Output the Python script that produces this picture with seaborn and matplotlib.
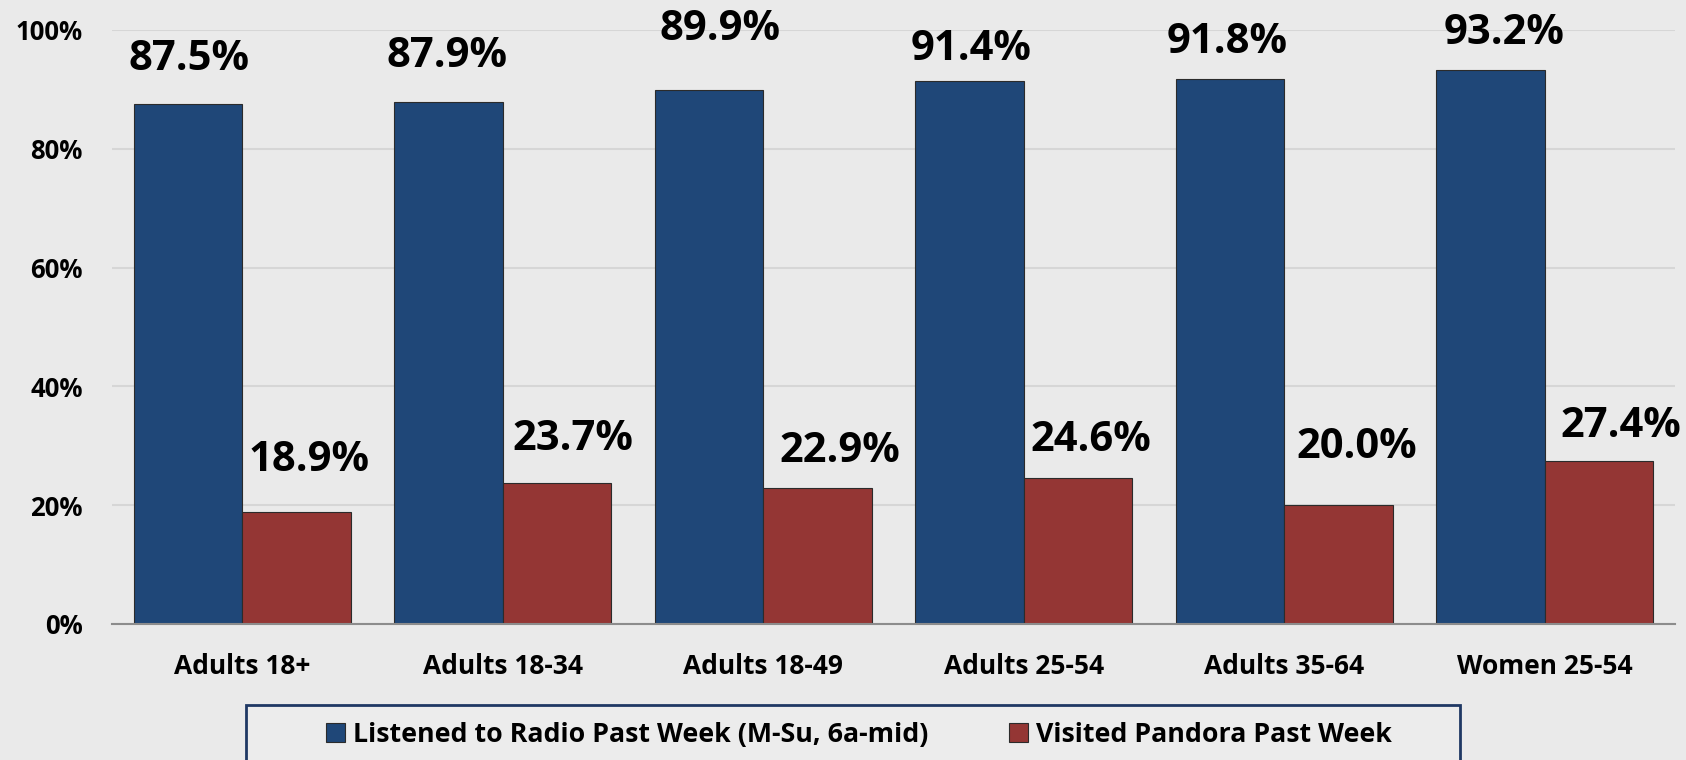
import matplotlib
matplotlib.use("Agg")
import matplotlib.pyplot as plt
import seaborn as sns
import pandas as pd
from matplotlib.patches import Rectangle

# ---- data ----
categories = ["Adults 18+", "Adults 18-34", "Adults 18-49", "Adults 25-54", "Adults 35-64", "Women 25-54"]
series_names = ["Listened to Radio Past Week (M-Su, 6a-mid)", "Visited Pandora Past Week"]
radio = [87.5, 87.9, 89.9, 91.4, 91.8, 93.2]
pandora = [18.9, 23.7, 22.9, 24.6, 20.0, 27.4]
ytick_vals = [0, 20, 40, 60, 80, 100]
ytick_labels = ["0%", "20%", "40%", "60%", "80%", "100%"]

# label placement tweaks (pixels: dx right, dy above bar top)
radio_lbl_dx = [1, -2, 11, 2, -3, 14]
radio_lbl_dy = [45, 45, 60, 32, 36, 37]
pand_lbl_dx = [13, 16, 22, 13, 18, 22]
pand_lbl_dy = [51, 44, 36, 37, 58, 35]

colors = ["#1F4778", "#943634"]
bg = "#eaeaea"

df = pd.DataFrame({
    "group": categories * 2,
    "series": [series_names[0]] * len(categories) + [series_names[1]] * len(categories),
    "value": radio + pandora,
})

sns.set_theme(style="white")
plt.rcParams["font.family"] = ["Open Sans", "DejaVu Sans"]
for k in ["text.color", "xtick.color", "ytick.color", "axes.labelcolor"]:
    plt.rcParams[k] = "black"

W, H = 1686, 760
fig = plt.figure(figsize=(W / 100, H / 100), dpi=100, facecolor=bg)
ax = fig.add_axes([112 / W, 1 - 624 / H, (1675 - 112) / W, (624 - 30) / H])
ax.set_facecolor("none")

sns.barplot(data=df, x="group", y="value", hue="series", palette=colors,
            width=0.833, gap=0, ax=ax, edgecolor="#2b2b2b", linewidth=0.8,
            saturation=1, errorbar=None, zorder=3)

ax.set_ylim(0, 100)
ax.set_xlim(-0.5, len(categories) - 0.5)
ax.set_yticks(ytick_vals)
ax.set_yticklabels(ytick_labels, fontsize=18.5, fontweight="bold")
ax.set_xticks(range(len(categories)))
ax.set_xticklabels(categories, fontsize=19, fontweight="bold")
ax.tick_params(axis="y", length=0, pad=21)
ax.tick_params(axis="x", length=0, pad=21)
ax.set_xlabel("")
ax.set_ylabel("")
ax.yaxis.grid(True, color="#d6d6d6", linewidth=1.5, zorder=0)
ax.set_axisbelow(True)
for s in ["top", "right", "left"]:
    ax.spines[s].set_visible(False)
ax.spines["bottom"].set_color("#8c8c8c")
ax.spines["bottom"].set_linewidth(1.5)
ax.spines["bottom"].set_zorder(4)

# value labels
bar_w = 0.833 / 2
pt = 72 / 100
for i, v in enumerate(radio):
    ax.annotate(f"{v:.1f}%", xy=(i - bar_w / 2, v),
                xytext=(radio_lbl_dx[i] * pt, radio_lbl_dy[i] * pt), textcoords="offset points",
                ha="center", va="center", fontsize=30, fontweight="bold", color="black",
                annotation_clip=False)
for i, v in enumerate(pandora):
    ax.annotate(f"{v:.1f}%", xy=(i + bar_w / 2, v),
                xytext=(pand_lbl_dx[i] * pt, pand_lbl_dy[i] * pt), textcoords="offset points",
                ha="center", va="center", fontsize=30, fontweight="bold", color="black",
                annotation_clip=False)

# legend
handles, labels = ax.get_legend_handles_labels()
ax.get_legend().remove()
fig.patches.append(Rectangle((246 / W, -0.02), (1460 - 246) / W, 1 - 705 / H + 0.02,
                             transform=fig.transFigure, facecolor="#ececec",
                             edgecolor="#1F3864", linewidth=2, zorder=1))
leg = fig.legend(handles, labels, loc="center", bbox_to_anchor=(859 / W, 1 - 735 / H),
                 ncol=2, frameon=False, handlelength=0.7, handleheight=0.7,
                 handletextpad=0.3, columnspacing=3.0, prop={"weight": "bold", "size": 19.3})

fig.savefig("out.png", dpi=100, facecolor=bg)
